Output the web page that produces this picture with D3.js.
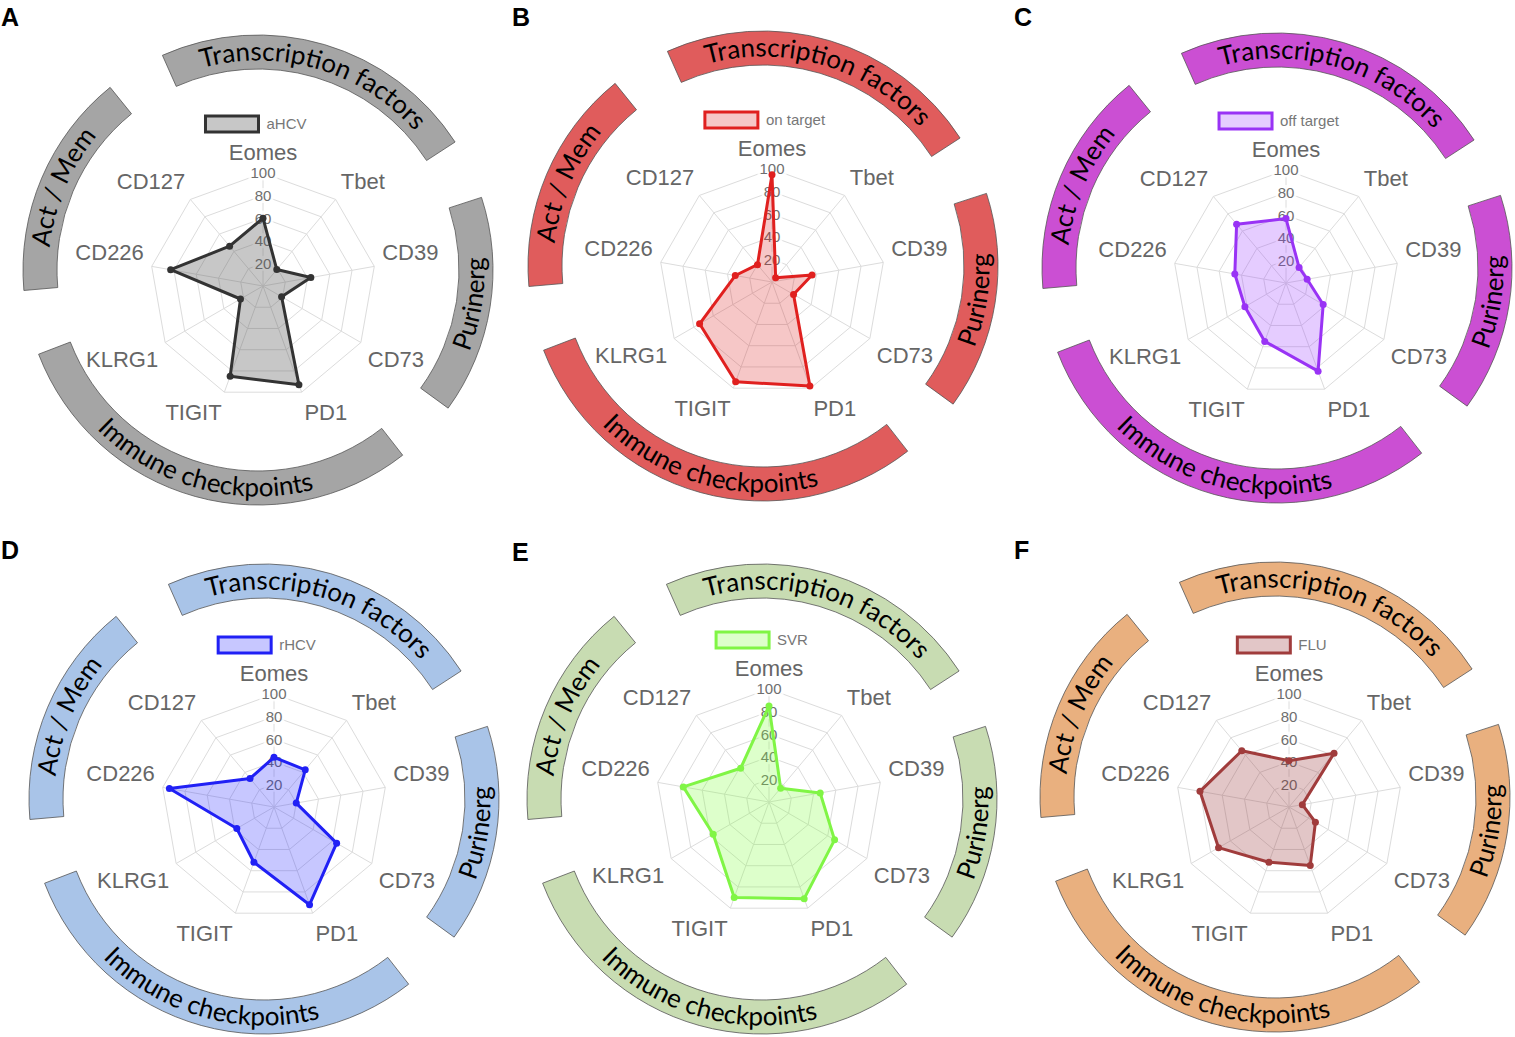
<!DOCTYPE html>
<html>
<head>
<meta charset="utf-8">
<script src="https://cdn.jsdelivr.net/npm/d3@7"></script>
<style>
  body { margin: 0; background: #fff; }
</style>
</head>
<body>
<script>
// Radar axes (clockwise from the top)
const axes = ["Eomes", "Tbet", "CD39", "CD73", "PD1", "TIGIT", "KLRG1", "CD226", "CD127"];
const ticks = [20, 40, 60, 80, 100];

// Marker groups drawn as arcs around each radar
const groups = ["Transcription factors", "Purinerg", "Immune checkpoints", "Act / Mem"];

// One series per panel
const panelLetters = ["A", "B", "C", "D", "E", "F"];
const seriesNames = ["aHCV", "on target", "off target", "rHCV", "SVR", "FLU"];
const aHCV      = [60, 19, 43, 19, 93, 85, 23, 83, 46];
const onTarget  = [95, 5, 36, 22, 98, 94, 74, 33, 20];
const offTarget = [57, 18, 19, 38, 83, 55, 42, 46, 68];
const rHCV      = [44, 43, 20, 64, 92, 52, 38, 94, 33];
const SVR       = [85, 16, 46, 67, 91, 90, 57, 77, 39];
const FLU       = [41, 62, 12, 27, 55, 52, 72, 80, 65];
const seriesValues = [aHCV, onTarget, offTarget, rHCV, SVR, FLU];

// Styles
const lineColors = ["#333333", "#e0201f", "#9933f5", "#2020f5", "#80f545", "#a03c3c"];
const fillColors = ["rgba(90,90,90,0.34)", "rgba(220,30,30,0.25)", "rgba(153,51,255,0.25)",
                    "rgba(30,30,255,0.25)", "rgba(128,255,64,0.27)", "rgba(150,50,55,0.28)"];
const arcColors = ["#a5a5a5", "#e05c5c", "#cb4fd3", "#a9c4e8", "#c8dcb2", "#e9b07f"];

// Layout: radar centres and arc-ring offsets for each panel
const centers = [[263, 286], [772, 282], [1286, 283], [274, 807], [769, 802], [1289, 807]];
const ringOffsets = [[-5, -16], [-9, -16], [-9, -15], [-10, -8], [-7, -3], [-14, -10]];
const letterPos = [[1, 26], [512, 26], [1014, 26], [1, 559], [512, 561], [1014, 559]];
// arc spans in degrees clockwise from 12 o'clock, and whether text faces inward
const groupSpans = [[-24, 57], [72, 126], [142, 249], [265, 321]];
const groupInward = [false, true, true, false];

const W = 1515, H = 1037;
const R = 113;
const ringInner = 201, ringOuter = 235;

const svg = d3.select("body").append("svg")
    .attr("width", W)
    .attr("height", H)
    .style("font-family", "'Liberation Sans', Arial, sans-serif");

const r = d3.scaleLinear().domain([0, 100]).range([0, R]);
const angle = d3.scaleLinear().domain([0, axes.length]).range([0, 2 * Math.PI]);
const rad = d => d * Math.PI / 180;

const ringLine = d3.lineRadial()
    .angle((d, i) => angle(i))
    .radius(d => r(d))
    .curve(d3.curveLinearClosed);

const arcGen = d3.arc().innerRadius(ringInner).outerRadius(ringOuter);

seriesValues.forEach(function(values, p) {
    const [cx, cy] = centers[p];
    const g = svg.append("g").attr("transform", `translate(${cx},${cy})`);

    // Outer category arcs
    const ring = g.append("g")
        .attr("transform", `translate(${ringOffsets[p][0]},${ringOffsets[p][1]})`);

    groups.forEach(function(name, k) {
        const [a0, a1] = groupSpans[k];
        ring.append("path")
            .attr("d", arcGen({ startAngle: rad(a0), endAngle: rad(a1) }))
            .attr("fill", arcColors[p])
            .attr("stroke", "#555")
            .attr("stroke-width", 0.8);

        const mid = (ringInner + ringOuter) / 2;
        const inward = groupInward[k];
        const rb = inward ? mid + 8.5 : mid - 8.5;
        const pt = a => [rb * Math.sin(rad(a)), -rb * Math.cos(rad(a))];
        const s = inward ? pt(a1) : pt(a0);
        const e = inward ? pt(a0) : pt(a1);
        const id = `tp${p}_${k}`;
        ring.append("path")
            .attr("id", id)
            .attr("fill", "none")
            .attr("d", `M${s[0]},${s[1]} A${rb},${rb} 0 0 ${inward ? 0 : 1} ${e[0]},${e[1]}`);
        ring.append("text")
            .style("font-family", "Lato, 'Open Sans', sans-serif")
            .style("font-size", "26px")
            .attr("fill", "#000")
            .append("textPath")
            .attr("href", "#" + id)
            .attr("startOffset", "50%")
            .attr("text-anchor", "middle")
            .text(name);
    });

    // Grid rings
    ticks.forEach(function(t) {
        g.append("path")
            .attr("d", ringLine(axes.map(() => t)))
            .attr("fill", "none")
            .attr("stroke", "#dcdcdc")
            .attr("stroke-width", 1);
    });

    // Spokes
    axes.forEach(function(a, i) {
        const [x, y] = d3.pointRadial(angle(i), r(100));
        g.append("line")
            .attr("x1", 0).attr("y1", 0)
            .attr("x2", x).attr("y2", y)
            .attr("stroke", "#dcdcdc")
            .attr("stroke-width", 1);
    });

    // Tick labels with backdrop
    ticks.forEach(function(t) {
        const txt = g.append("text")
            .attr("x", 0)
            .attr("y", -r(t))
            .attr("dy", "0.36em")
            .attr("text-anchor", "middle")
            .style("font-size", "15px")
            .attr("fill", "#6e6e6e")
            .text(t);
        const bb = txt.node().getBBox();
        g.insert("rect", function() { return txt.node(); })
            .attr("x", bb.x - 2)
            .attr("y", bb.y + 1)
            .attr("width", bb.width + 4)
            .attr("height", bb.height - 2)
            .attr("fill", "rgba(255,255,255,0.8)");
    });

    // Axis labels: anchored like Chart.js point labels
    axes.forEach(function(a, i) {
        const deg = i * 360 / axes.length;
        const [px, py] = d3.pointRadial(angle(i), R + 8);
        let anchor = "middle";
        if (deg > 0 && deg < 180) anchor = "start";
        if (deg > 180) anchor = "end";
        let yc = py;
        if (deg < 90 || deg > 270) yc = py - 12.5;
        else if (deg > 90 && deg < 270) yc = py + 12.5;
        g.append("text")
            .attr("x", px)
            .attr("y", yc)
            .attr("dy", "0.35em")
            .attr("text-anchor", anchor)
            .style("font-size", "22px")
            .attr("fill", "#666")
            .text(a);
    });

    // Data polygon
    g.append("path")
        .attr("d", ringLine(values))
        .attr("fill", fillColors[p])
        .attr("stroke", lineColors[p])
        .attr("stroke-width", 3)
        .attr("stroke-linejoin", "round");

    g.selectAll(".pt")
        .data(values)
        .enter().append("circle")
        .attr("cx", (d, i) => d3.pointRadial(angle(i), r(d))[0])
        .attr("cy", (d, i) => d3.pointRadial(angle(i), r(d))[1])
        .attr("r", 3.5)
        .attr("fill", lineColors[p]);

    // Legend
    const leg = g.append("g");
    const legText = leg.append("text")
        .attr("dy", "0.35em")
        .style("font-size", "15px")
        .attr("fill", "#777")
        .text(seriesNames[p]);
    const tw = legText.node().getComputedTextLength();
    const total = 53 + 8 + tw;
    const x0 = -total / 2 - 7;
    leg.append("rect")
        .attr("x", x0)
        .attr("y", -162 - 8)
        .attr("width", 53)
        .attr("height", 16)
        .attr("fill", fillColors[p])
        .attr("stroke", lineColors[p])
        .attr("stroke-width", 3);
    legText.attr("x", x0 + 61).attr("y", -162);

    // Panel letter
    svg.append("text")
        .attr("x", letterPos[p][0])
        .attr("y", letterPos[p][1])
        .style("font-size", "25px")
        .style("font-weight", "bold")
        .attr("fill", "#000")
        .text(panelLetters[p]);
});
</script>
</body>
</html>
